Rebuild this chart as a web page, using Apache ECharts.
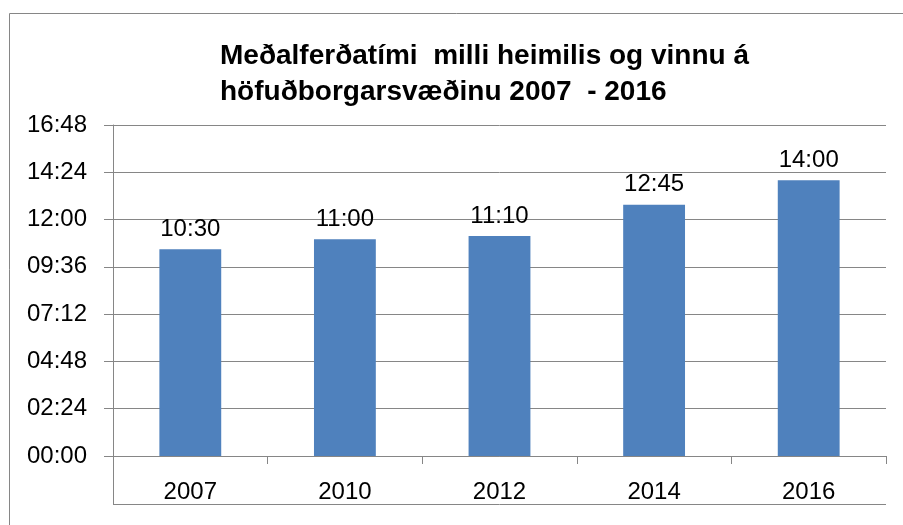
<!DOCTYPE html>
<html>
<head>
<meta charset="utf-8">
<script src="https://cdn.jsdelivr.net/npm/echarts@6/dist/echarts.min.js"></script>
<style>
  html, body { margin: 0; padding: 0; background: #fff; }
  #main { width: 903px; height: 525px; }
</style>
</head>
<body>
<div id="main"></div>
<script>
// ár og meðalferðatími (mm:ss)
var years = ['2007', '2010', '2012', '2014', '2016'];
var times = ['10:30', '11:00', '11:10', '12:45', '14:00'];
var titleLines = ['Meðalferðatími  milli heimilis og vinnu á', 'höfuðborgarsvæðinu 2007  - 2016'];

function toSec(s) {
    var p = s.split(':');
    return parseInt(p[0], 10) * 60 + parseInt(p[1], 10);
}
function fmt(v) {
    var m = Math.floor(v / 60), s = Math.round(v % 60);
    return (m < 10 ? '0' : '') + m + ':' + (s < 10 ? '0' : '') + s;
}
var values = times.map(toSec);

var gray = '#868686';
var font = '"Liberation Sans", Arial, sans-serif';

var myChart = echarts.init(document.getElementById('main'));
var option = {
    animation: false,
    backgroundColor: '#fff',
    title: {
        text: titleLines.join('\n'),
        left: 215,
        top: 33,
        textStyle: {
            fontFamily: font,
            fontWeight: 'bold',
            fontSize: 28,
            lineHeight: 36,
            color: '#000'
        }
    },
    grid: {
        left: 113,
        right: 17,
        top: 125,
        bottom: 69
    },
    xAxis: {
        type: 'category',
        data: years,
        axisLine: { show: true, lineStyle: { color: gray, width: 1 } },
        axisTick: { show: true, length: 8, alignWithLabel: false, lineStyle: { color: gray } },
        axisLabel: { color: '#000', fontSize: 24, fontFamily: font, margin: 24 },
        splitLine: { show: false }
    },
    yAxis: {
        type: 'value',
        min: 0,
        max: 1008,
        interval: 144,
        axisLine: { show: true, lineStyle: { color: gray, width: 1 } },
        axisTick: { show: true, length: 9, inside: false, lineStyle: { color: gray } },
        splitLine: { show: true, lineStyle: { color: gray, width: 1 } },
        axisLabel: {
            color: '#000',
            fontSize: 24,
            fontFamily: font,
            margin: 26,
            formatter: fmt
        }
    },
    series: [
        {
            type: 'bar',
            data: values,
            barWidth: '40%',
            itemStyle: { color: '#4F81BD' },
            label: {
                show: true,
                position: 'top',
                distance: 8,
                color: '#000',
                fontSize: 24,
                fontFamily: font,
                formatter: function (p) { return fmt(p.value); }
            }
        }
    ],
    graphic: [
        // ytri rammi
        { type: 'rect', shape: { x: 9.5, y: 13.5, width: 900, height: 520 },
          style: { fill: 'none', stroke: gray, lineWidth: 1 }, silent: true, z: -1 },
        // neðri lína undir ársmerkjum
        { type: 'line', shape: { x1: 113, y1: 504.5, x2: 886, y2: 504.5 },
          style: { stroke: gray, lineWidth: 1 }, silent: true },
        { type: 'line', shape: { x1: 113.5, y1: 456, x2: 113.5, y2: 505 },
          style: { stroke: gray, lineWidth: 1 }, silent: true }
    ]
};
myChart.setOption(option);
</script>
</body>
</html>
